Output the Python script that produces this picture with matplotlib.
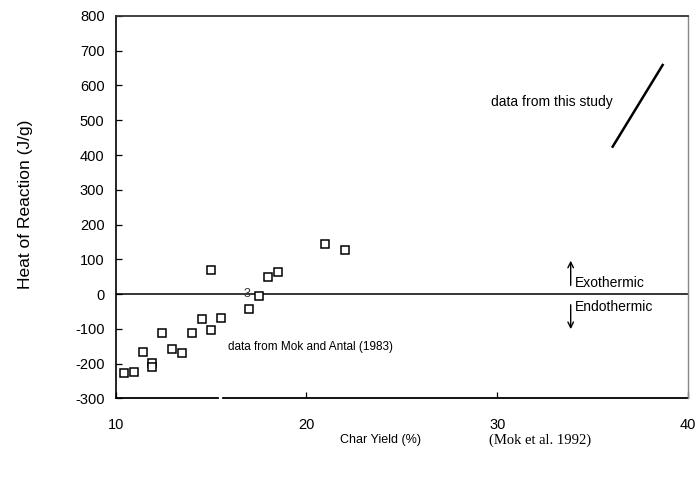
import matplotlib
matplotlib.use("Agg")
import matplotlib.pyplot as plt
from matplotlib.lines import Line2D

plt.rcParams['font.family'] = ['Liberation Sans', 'DejaVu Sans']
plt.rcParams['axes.unicode_minus'] = False

# Mok and Antal (1983) measurements: char yield (%) vs heat of reaction (J/g)
char_yield = [10.43, 10.96, 11.45, 11.92, 11.92, 12.44, 12.97, 13.46, 13.98,
              14.51, 15.0, 15.0, 15.5, 17.0, 17.53, 18.0, 18.52, 20.99, 22.02]
heat_of_reaction = [-226, -224, -168, -199, -211, -113, -158, -171, -113,
                    -73, 69, -104, -70, -44, -5, 48, 64, 144, 127]

# Trend from this study
study_yield = [36.05, 38.67]
study_heat = [424, 659]

x_ticks = [10, 20, 30, 40]
y_ticks = [-300, -200, -100, 0, 100, 200, 300, 400, 500, 600, 700, 800]

fig = plt.figure(figsize=(6.99, 4.8), dpi=100)
ax = fig.add_axes([0.1655, 0.1702, 0.8188, 0.7965])
ax.set_xlim(10, 40)
ax.set_ylim(-300, 800)

ax.plot(char_yield, heat_of_reaction, linestyle='none', marker='s',
        markersize=6, markerfacecolor='white', markeredgecolor='black',
        markeredgewidth=1.1, zorder=3)
ax.plot(study_yield, study_heat, color='black', linewidth=1.8)

# zero line separating exothermic / endothermic
ax.axhline(0, color='black', linewidth=1.1, zorder=2)

ax.text(17.05, 0, '3', fontsize=9, color='#333333', ha='right', va='center')

ax.text(29.65, 552, 'data from this study', fontsize=10, va='center')
ax.text(15.9, -152, 'data from Mok and Antal (1983)', fontsize=8.5, va='center')

ax.annotate('', xy=(33.85, 104), xytext=(33.85, 17),
            arrowprops=dict(arrowstyle='->', color='black', lw=1.0))
ax.annotate('', xy=(33.85, -109), xytext=(33.85, -23),
            arrowprops=dict(arrowstyle='->', color='black', lw=1.0))
ax.text(34.07, 33, 'Exothermic', fontsize=10, va='center')
ax.text(34.07, -36, 'Endothermic', fontsize=10, va='center')

# frame: bottom spine drawn with a small break
ax.spines['bottom'].set_visible(False)
ax.spines['left'].set_linewidth(1.2)
ax.spines['top'].set_linewidth(1.3)
ax.spines['top'].set_color('#333333')
ax.spines['right'].set_linewidth(1.0)
ax.spines['right'].set_color('#888888')
trans = ax.get_xaxis_transform()
ax.add_line(Line2D([10, 15.35], [0, 0], transform=trans, color='black',
                   linewidth=1.3, clip_on=False))
ax.add_line(Line2D([15.62, 40], [0, 0], transform=trans, color='black',
                   linewidth=1.3, clip_on=False))

ax.set_xticks(x_ticks)
ax.set_yticks(y_ticks)
ax.tick_params(direction='in', length=4, width=0.9, labelsize=10.5)
ax.tick_params(axis='x', pad=14)
ax.tick_params(axis='y', pad=8)

fig.text(0.036, 0.575, 'Heat of Reaction (J/g)', fontsize=12.5, rotation=90,
         ha='center', va='center')
fig.text(0.545, 0.083, 'Char Yield (%)', fontsize=9, ha='center', va='center')
fig.text(0.773, 0.083, '(Mok et al. 1992)', fontsize=10.5, ha='center',
         va='center', family=['Liberation Serif', 'DejaVu Serif'])

fig.savefig('out.png', dpi=100)
